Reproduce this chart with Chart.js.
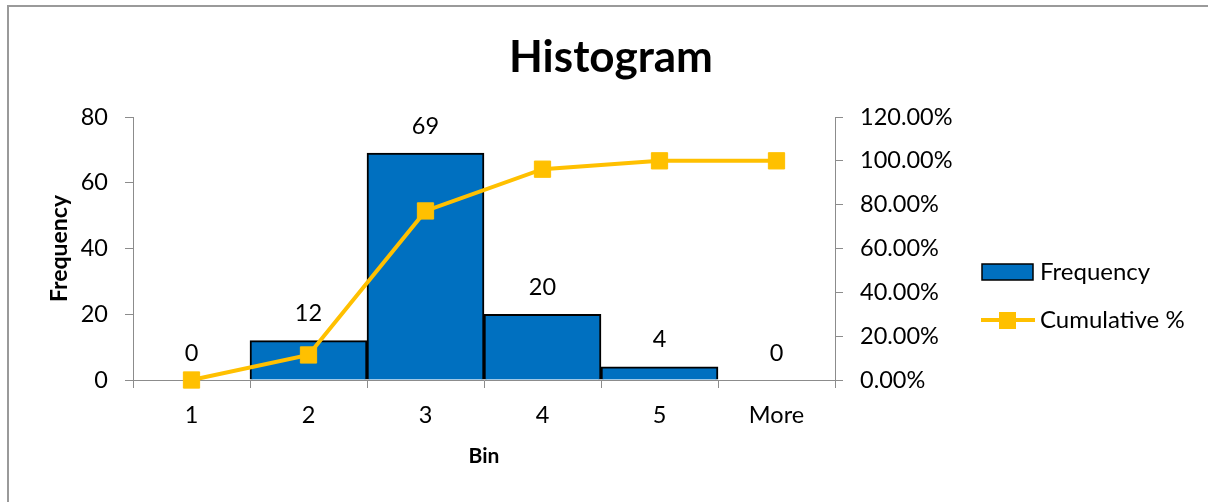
<!DOCTYPE html>
<html>
<head>
<meta charset="utf-8">
<title>Histogram</title>
<script src="https://cdn.jsdelivr.net/npm/chart.js@4.4.1/dist/chart.umd.min.js"></script>
<style>
  html, body { margin: 0; padding: 0; background: #fff; }
  #wrap { position: relative; width: 1208px; height: 502px; overflow: hidden; }
  #frame { position: absolute; left: 7px; top: 5px; width: 1300px; height: 600px;
           border-left: 2px solid #9a9a9a; border-top: 2px solid #9a9a9a; }
  canvas { position: absolute; left: 0; top: 0; }
</style>
</head>
<body>
<div id="wrap">
  <div id="frame"></div>
  <canvas id="chart" width="1208" height="502"></canvas>
</div>
<script>
const bins = ['1', '2', '3', '4', '5', 'More'];
const frequency = [0, 12, 69, 20, 4, 0];
const cumulative = [0, 0.1143, 0.7714, 0.9619, 1, 1];

const BLUE = '#0070C0';
const GOLD = '#FFC000';
const AXIS = '#8c8c8c';

Chart.defaults.font.family = 'Lato, "Open Sans", sans-serif';
Chart.defaults.color = '#000';

// value labels above the bars
const valueLabels = {
  id: 'valueLabels',
  afterDatasetsDraw(chart) {
    const ctx = chart.ctx;
    const meta = chart.getDatasetMeta(0);
    ctx.save();
    ctx.font = '23.5px Lato';
    ctx.fillStyle = '#000';
    ctx.textAlign = 'center';
    ctx.textBaseline = 'middle';
    meta.data.forEach((bar, i) => {
      ctx.fillText(String(frequency[i]), bar.x, bar.y - 27);
    });
    ctx.restore();
  }
};

// legend drawn to the right of the secondary axis
const sideLegend = {
  id: 'sideLegend',
  afterDraw(chart) {
    const ctx = chart.ctx;
    const ds = chart.data.datasets;
    ctx.save();
    ctx.font = '24px Lato';
    ctx.textAlign = 'left';
    ctx.textBaseline = 'middle';

    // bar entry
    ctx.fillStyle = BLUE;
    ctx.fillRect(982, 264, 51, 16);
    ctx.strokeStyle = '#000';
    ctx.lineWidth = 1.5;
    ctx.strokeRect(982, 264, 51, 16);
    ctx.fillStyle = '#000';
    ctx.fillText(ds[0].label, 1040, 272);

    // line entry
    ctx.strokeStyle = GOLD;
    ctx.lineWidth = 4;
    ctx.beginPath();
    ctx.moveTo(981, 320);
    ctx.lineTo(1035, 320);
    ctx.stroke();
    ctx.fillStyle = GOLD;
    ctx.fillRect(999, 312, 17, 17);
    ctx.fillStyle = '#000';
    ctx.fillText(ds[1].label, 1040, 320);
    ctx.restore();
  }
};

new Chart(document.getElementById('chart'), {
  type: 'bar',
  data: {
    labels: bins,
    datasets: [
      {
        type: 'bar',
        label: 'Frequency',
        data: frequency,
        yAxisID: 'y',
        backgroundColor: BLUE,
        borderColor: '#000',
        borderWidth: 2,
        barPercentage: 1,
        categoryPercentage: 1,
        order: 1
      },
      {
        type: 'line',
        label: 'Cumulative %',
        data: cumulative,
        yAxisID: 'y1',
        borderColor: GOLD,
        borderWidth: 4,
        tension: 0,
        pointStyle: 'rect',
        pointRadius: 11.5,
        pointHoverRadius: 11.5,
        pointBackgroundColor: GOLD,
        pointBorderColor: GOLD,
        pointBorderWidth: 1,
        clip: false,
        order: 0
      }
    ]
  },
  options: {
    responsive: false,
    animation: false,
    layout: { padding: { left: 14, right: 0, top: 0, bottom: 0 } },
    plugins: {
      legend: { display: false },
      tooltip: { enabled: false },
      title: {
        display: true,
        text: 'Histogram',
        color: '#000',
        font: { size: 44, weight: 'bold' },
        padding: { top: 31, bottom: 33.2 }
      }
    },
    scales: {
      x: {
        offset: true,
        grid: { offset: true, drawOnChartArea: false, drawTicks: true, tickLength: 8, color: AXIS },
        border: { color: AXIS, width: 1 },
        ticks: { font: { size: 23.5 }, color: '#000', padding: 13 },
        title: {
          display: true,
          text: 'Bin',
          color: '#000',
          font: { size: 21, weight: 'bold' },
          padding: { top: 0, bottom: 33 }
        },
        afterFit: s => { s.height = 122; }
      },
      y: {
        position: 'left',
        min: 0,
        max: 80,
        ticks: { stepSize: 20, font: { size: 23.5 }, color: '#000', padding: 17 },
        grid: { drawOnChartArea: false, drawTicks: true, tickLength: 8, color: AXIS },
        border: { color: AXIS, width: 1 },
        title: {
          display: true,
          text: 'Frequency',
          color: '#000',
          font: { size: 23, weight: 'bold' },
          padding: { top: 32, bottom: 0 }
        },
        afterFit: s => { s.width = 119; }
      },
      y1: {
        position: 'right',
        min: 0,
        max: 1.2,
        ticks: {
          stepSize: 0.2,
          font: { size: 23.5 },
          color: '#000',
          padding: 17,
          callback: v => (v * 100).toFixed(2) + '%'
        },
        grid: { drawOnChartArea: false, drawTicks: true, tickLength: 8, color: AXIS },
        border: { color: AXIS, width: 1 },
        afterFit: s => { s.width = 373; }
      }
    }
  },
  plugins: [valueLabels, sideLegend]
});
</script>
</body>
</html>
